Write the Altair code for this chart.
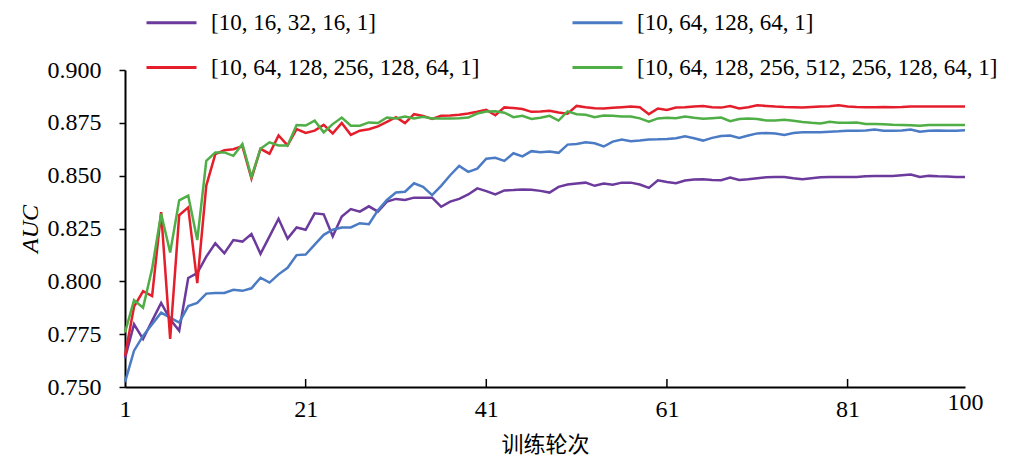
import altair as alt
import pandas as pd

series_names = [
    "[10, 16, 32, 16, 1]",
    "[10, 64, 128, 64, 1]",
    "[10, 64, 128, 256, 128, 64, 1]",
    "[10, 64, 128, 256, 512, 256, 128, 64, 1]",
]
series_colors = ["#6B3A9C", "#4A7BC4", "#E41E2B", "#4FAE45"]
# legend is filled column by column: purple, red | blue, green
legend_order = [0, 2, 1, 3]

auc_purple = [
    0.7636, 0.7797, 0.7727, 0.7813, 0.7898, 0.7820, 0.7766, 0.8016, 0.8039, 0.8117,
    0.8180, 0.8133, 0.8195, 0.8188, 0.8224, 0.8130, 0.8213, 0.8296, 0.8202, 0.8255,
    0.8244, 0.8322, 0.8317, 0.8213, 0.8307, 0.8342, 0.8330, 0.8355, 0.8330, 0.8377,
    0.8390, 0.8385, 0.8396, 0.8396, 0.8396, 0.8353, 0.8377, 0.8390, 0.8411, 0.8440,
    0.8427, 0.8411, 0.8430, 0.8432, 0.8435, 0.8433, 0.8428, 0.8420, 0.8447, 0.8458,
    0.8463, 0.8467, 0.8452, 0.8463, 0.8457, 0.8467, 0.8467, 0.8458, 0.8442, 0.8478,
    0.8470, 0.8464, 0.8477, 0.8482, 0.8483, 0.8480, 0.8478, 0.8491, 0.8480, 0.8483,
    0.8488, 0.8492, 0.8494, 0.8494, 0.8488, 0.8483, 0.8488, 0.8492, 0.8494, 0.8494,
    0.8494, 0.8494, 0.8497, 0.8499, 0.8499, 0.8499, 0.8502, 0.8505, 0.8494, 0.8499,
    0.8497, 0.8496, 0.8494, 0.8494,
]
auc_blue = [
    0.7523, 0.7672, 0.7742, 0.7797, 0.7852, 0.7828, 0.7805, 0.7883, 0.7898, 0.7942,
    0.7945, 0.7945, 0.7960, 0.7955, 0.7967, 0.8017, 0.7994, 0.8033, 0.8064, 0.8124,
    0.8127, 0.8174, 0.8220, 0.8244, 0.8255, 0.8255, 0.8275, 0.8270, 0.8336, 0.8385,
    0.8420, 0.8424, 0.8464, 0.8447, 0.8408, 0.8452, 0.8502, 0.8546, 0.8518, 0.8533,
    0.8580, 0.8585, 0.8570, 0.8606, 0.8591, 0.8616, 0.8611, 0.8614, 0.8608, 0.8647,
    0.8650, 0.8658, 0.8653, 0.8638, 0.8661, 0.8671, 0.8663, 0.8666, 0.8671, 0.8672,
    0.8674, 0.8677, 0.8686, 0.8677, 0.8666, 0.8679, 0.8688, 0.8690, 0.8679, 0.8690,
    0.8700, 0.8702, 0.8699, 0.8693, 0.8702, 0.8705, 0.8705, 0.8705, 0.8708, 0.8710,
    0.8713, 0.8713, 0.8714, 0.8718, 0.8713, 0.8713, 0.8714, 0.8718, 0.8708, 0.8713,
    0.8714, 0.8713, 0.8713, 0.8715,
]
auc_red = [
    0.7648, 0.7880, 0.7953, 0.7930, 0.8328, 0.7727, 0.8313, 0.8350, 0.7992, 0.8453,
    0.8602, 0.8620, 0.8625, 0.8640, 0.8486, 0.8627, 0.8604, 0.8690, 0.8643, 0.8720,
    0.8702, 0.8713, 0.8740, 0.8700, 0.8749, 0.8693, 0.8713, 0.8720, 0.8733, 0.8755,
    0.8777, 0.8749, 0.8791, 0.8783, 0.8768, 0.8783, 0.8785, 0.8788, 0.8794, 0.8802,
    0.8811, 0.8786, 0.8823, 0.8820, 0.8815, 0.8802, 0.8804, 0.8807, 0.8799, 0.8793,
    0.8830, 0.8824, 0.8819, 0.8818, 0.8821, 0.8824, 0.8827, 0.8824, 0.8791, 0.8818,
    0.8811, 0.8822, 0.8824, 0.8827, 0.8830, 0.8824, 0.8822, 0.8829, 0.8818, 0.8824,
    0.8833, 0.8830, 0.8827, 0.8825, 0.8824, 0.8822, 0.8825, 0.8827, 0.8829, 0.8833,
    0.8827, 0.8825, 0.8824, 0.8824, 0.8825, 0.8824, 0.8825, 0.8827, 0.8827, 0.8827,
    0.8827, 0.8827, 0.8827, 0.8827,
]
auc_green = [
    0.7758, 0.7911, 0.7875, 0.8060, 0.8320, 0.8136, 0.8383, 0.8406, 0.8195, 0.8570,
    0.8610, 0.8610, 0.8594, 0.8650, 0.8494, 0.8627, 0.8658, 0.8643, 0.8643, 0.8740,
    0.8737, 0.8760, 0.8705, 0.8744, 0.8775, 0.8736, 0.8736, 0.8752, 0.8749, 0.8775,
    0.8771, 0.8780, 0.8771, 0.8779, 0.8771, 0.8771, 0.8771, 0.8772, 0.8775, 0.8794,
    0.8804, 0.8805, 0.8798, 0.8777, 0.8783, 0.8768, 0.8774, 0.8783, 0.8761, 0.8804,
    0.8791, 0.8788, 0.8777, 0.8785, 0.8783, 0.8780, 0.8780, 0.8771, 0.8755, 0.8771,
    0.8774, 0.8772, 0.8780, 0.8774, 0.8769, 0.8772, 0.8775, 0.8758, 0.8768, 0.8771,
    0.8768, 0.8761, 0.8761, 0.8764, 0.8760, 0.8754, 0.8750, 0.8747, 0.8755, 0.8750,
    0.8750, 0.8752, 0.8744, 0.8744, 0.8743, 0.8741, 0.8740, 0.8738, 0.8736, 0.8740,
    0.8740, 0.8740, 0.8740, 0.8740,
]
epochs = list(range(1, len(auc_purple) + 1))

x_tick_values = [1, 21, 41, 61, 81, 94]
x_tick_labels = ["1", "21", "41", "61", "81", "100"]
y_tick_values = [0.750, 0.775, 0.800, 0.825, 0.850, 0.875, 0.900]

all_series = [auc_purple, auc_blue, auc_red, auc_green]
rows = []
for name, vals in zip(series_names, all_series):
    for e, v in zip(epochs, vals):
        rows.append({"epoch": e, "auc": v, "model": name})
df = pd.DataFrame(rows)
ticks_df = pd.DataFrame({"t": x_tick_values[1:-1]})

W, H = 840, 317
FONT = "Liberation Serif"

label_expr = "[{}][indexof([{}], datum.value)]".format(
    ",".join("'%s'" % s for s in x_tick_labels),
    ",".join(str(v) for v in x_tick_values),
)

x_scale = alt.Scale(domain=[x_tick_values[0], x_tick_values[-1]], nice=False, zero=False)
y_scale = alt.Scale(domain=[y_tick_values[0], y_tick_values[-1]], nice=False, zero=False)

lines = alt.Chart(df).mark_line(strokeWidth=2.5).encode(
    x=alt.X(
        "epoch:Q",
        scale=x_scale,
        axis=alt.Axis(
            values=x_tick_values,
            labelExpr=label_expr,
            title="训练轮次",
            titleFont="Noto Sans CJK SC",
            titleFontWeight="normal",
            titleFontSize=22,
            titlePadding=13,
            labelFont=FONT,
            labelFontSize=24,
            labelPadding={"condition": {"test": "datum.value == %d" % x_tick_values[-1], "value": 3}, "value": 10},
            tickSize=0,
            labelFlush=False,
            labelOverlap=False,
            domainColor="black",
            domainWidth=2,
            grid=False,
        ),
    ),
    y=alt.Y(
        "auc:Q",
        scale=y_scale,
        axis=alt.Axis(
            values=y_tick_values,
            format=".3f",
            title="AUC",
            titleFont=FONT,
            titleFontStyle="italic",
            titleFontWeight="normal",
            titleFontSize=24,
            titlePadding=5,
            labelFont=FONT,
            labelFontSize=24,
            labelPadding=18,
            tickSize=6,
            tickColor="black",
            tickWidth=1.5,
            domainColor="black",
            domainWidth=2,
            grid=False,
            labelOverlap=False,
        ),
    ),
    color=alt.Color(
        "model:N",
        scale=alt.Scale(
            domain=[series_names[k] for k in legend_order],
            range=[series_colors[k] for k in legend_order],
        ),
        legend=alt.Legend(
            orient="none",
            legendX=20,
            legendY=-74,
            columns=2,
            title=None,
            symbolType="stroke",
            symbolSize=2500,
            symbolStrokeWidth=3,
            labelFont=FONT,
            labelFontSize=23,
            labelOffset=13,
            labelLimit=0,
            columnPadding=86,
            rowPadding=6,
        ),
    ),
)

inner_ticks = alt.Chart(ticks_df).mark_rule(color="black", strokeWidth=1.5).encode(
    x=alt.X("t:Q", scale=x_scale),
    y=alt.value(H),
    y2=alt.value(H - 8),
)

chart = (
    alt.layer(lines, inner_ticks)
    .properties(
        width=W,
        height=H,
        autosize=alt.AutoSizeParams(type="none"),
        padding={"left": 117, "top": 62, "right": 50, "bottom": 70},
    )
    .configure_view(stroke=None)
)

chart.save("out.html", embed_options={"renderer": "svg", "actions": False})
